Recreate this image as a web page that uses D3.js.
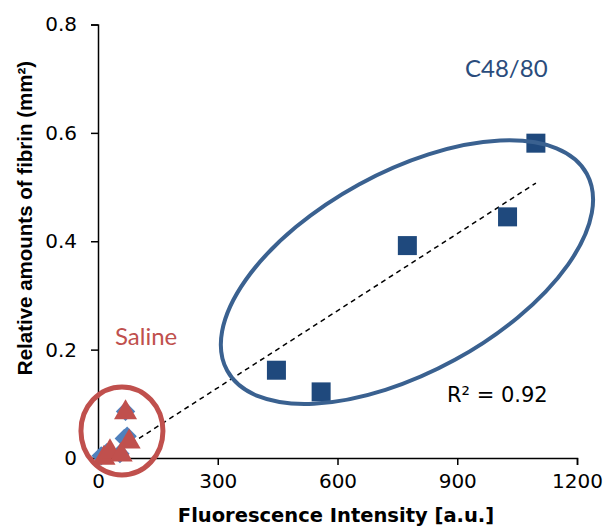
<!DOCTYPE html>
<html>
<head>
<meta charset="utf-8">
<script src="https://cdn.jsdelivr.net/npm/d3@7"></script>
<style>
  body { margin: 0; background: #fff; }
  .axis path, .axis line { stroke: #000; stroke-width: 1.5; }
  .axis text { font-family: "DejaVu Sans", sans-serif; font-size: 20px; fill: #000; }
</style>
</head>
<body>
<div id="chart"></div>
<script>
// C48/80 group (squares)
const c48X = [447, 559, 775, 1026, 1097];
const c48Y = [0.162, 0.122, 0.392, 0.445, 0.581];

// saline group: blue diamonds and red triangles
const salineDiamondX = [8, 22, 55, 66, 73, 69];
const salineDiamondY = [0.004, 0.010, 0.008, 0.036, 0.040, 0.086];
const salineTriangleX = [15, 30, 58, 78, 69];
const salineTriangleY = [0.000, 0.012, 0.006, 0.030, 0.084];

// linear trendline
const trendSlope = 0.000474;
const trendIntercept = -0.0126;
const trendRange = [8, 1097];

const xTicks = [0, 300, 600, 900, 1200];
const yTicks = [0, 0.2, 0.4, 0.6, 0.8];

// annotation centres in data units
const c48Centre = [774, 0.343];
const salineCentre = [60, 0.050];

const width = 603, height = 529;

const x = d3.scaleLinear().domain([0, 1200]).range([98, 577]);
const y = d3.scaleLinear().domain([0, 0.8]).range([458, 24.5]);

const svg = d3.select("#chart").append("svg")
    .attr("width", width)
    .attr("height", height);

// axes
svg.append("g")
    .attr("class", "axis")
    .attr("transform", "translate(0," + y(0) + ")")
    .call(d3.axisBottom(x).tickValues(xTicks).tickSize(7).tickPadding(9).tickFormat(d3.format("d")));

svg.append("g")
    .attr("class", "axis")
    .attr("transform", "translate(" + x(0) + ",0)")
    .call(d3.axisLeft(y).tickValues(yTicks).tickSize(7).tickPadding(14).tickFormat(d => d === 0 ? "0" : d3.format(".1f")(d)));

// trendline
svg.append("line")
    .attr("x1", x(trendRange[0]))
    .attr("y1", y(trendSlope * trendRange[0] + trendIntercept))
    .attr("x2", x(trendRange[1]))
    .attr("y2", y(trendSlope * trendRange[1] + trendIntercept))
    .attr("stroke", "#000")
    .attr("stroke-width", 1.5)
    .attr("stroke-dasharray", "5,4");

// saline diamonds
svg.append("g").selectAll("path")
    .data(d3.zip(salineDiamondX, salineDiamondY))
    .join("path")
    .attr("transform", d => "translate(" + x(d[0]) + "," + y(d[1]) + ")")
    .attr("d", d3.symbol(d3.symbolDiamond2, 240))
    .attr("fill", "#4F81BD");

// saline triangles
svg.append("g").selectAll("path")
    .data(d3.zip(salineTriangleX, salineTriangleY))
    .join("path")
    .attr("transform", d => "translate(" + x(d[0]) + "," + y(d[1]) + ")")
    .attr("d", d3.symbol(d3.symbolTriangle, 230))
    .attr("fill", "#C0504D");

// c48/80 squares
svg.append("g").selectAll("rect")
    .data(d3.zip(c48X, c48Y))
    .join("rect")
    .attr("x", d => x(d[0]) - 9.5)
    .attr("y", d => y(d[1]) - 9.5)
    .attr("width", 19)
    .attr("height", 19)
    .attr("fill", "#1F497D");

// annotation shapes
svg.append("ellipse")
    .attr("transform", "translate(" + x(c48Centre[0]) + "," + y(c48Centre[1]) + ") rotate(-28.7)")
    .attr("rx", 205)
    .attr("ry", 100)
    .attr("fill", "none")
    .attr("stroke", "#3A6190")
    .attr("stroke-width", 4);

svg.append("ellipse")
    .attr("cx", x(salineCentre[0]))
    .attr("cy", y(salineCentre[1]))
    .attr("rx", 41)
    .attr("ry", 44)
    .attr("fill", "none")
    .attr("stroke", "#C0504D")
    .attr("stroke-width", 5);

// labels
svg.append("text")
    .attr("x", 465).attr("y", 77)
    .attr("font-family", "Lato, sans-serif")
    .attr("font-size", 24)
    .attr("fill", "#2A4C7C")
    .text("C48/80");

svg.append("text")
    .attr("x", 115).attr("y", 345)
    .attr("font-family", "Lato, sans-serif")
    .attr("font-size", 24)
    .attr("fill", "#C0504D")
    .text("Saline");

svg.append("text")
    .attr("x", 447).attr("y", 402)
    .attr("font-family", "DejaVu Sans, sans-serif")
    .attr("font-size", 21)
    .attr("fill", "#000")
    .text("R² = 0.92");

// axis titles
svg.append("text")
    .attr("x", 336).attr("y", 522)
    .attr("text-anchor", "middle")
    .attr("font-family", "DejaVu Sans, sans-serif")
    .attr("font-weight", "bold")
    .attr("font-size", 19.5)
    .text("Fluorescence Intensity [a.u.]");

svg.append("text")
    .attr("transform", "translate(32,218) rotate(-90)")
    .attr("text-anchor", "middle")
    .attr("font-family", "Liberation Sans, Arial, sans-serif")
    .attr("font-weight", "bold")
    .attr("font-size", 20.5)
    .text("Relative amounts of fibrin (mm²)");
</script>
</body>
</html>
